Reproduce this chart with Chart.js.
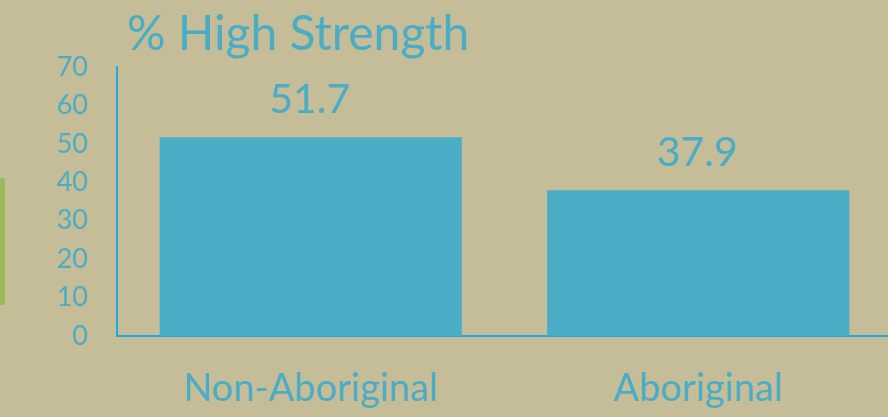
<!DOCTYPE html>
<html>
<head>
<meta charset="utf-8">
<script src="https://cdn.jsdelivr.net/npm/chart.js@4.4.1/dist/chart.umd.min.js"></script>
<style>
  html, body { margin: 0; padding: 0; background: #C4BD97; overflow: hidden; }
  #wrap { position: relative; width: 892px; height: 417px; }
  #accent { position: absolute; left: 0; top: 178px; width: 5px; height: 127px; background: #9BBB59; border-radius: 0 2px 2px 0; }
</style>
</head>
<body>
<div id="wrap">
  <canvas id="c" width="892" height="417"></canvas>
</div>
<div id="accent"></div>
<script>
const titleText = "% High Strength";
const categories = ["Non-Aboriginal", "Aboriginal"];
const values = [51.7, 37.9];
const yMin = 0, yMax = 70, yStep = 10;

const BLUE = "#4BACC6";
const AXIS = "#22A9DD";
const FONT = "Lato, 'Open Sans', sans-serif";

const labelsPlugin = {
  id: "valueLabels",
  afterDatasetsDraw(chart) {
    const ctx = chart.ctx;
    const meta = chart.getDatasetMeta(0);
    ctx.save();
    ctx.fillStyle = BLUE;
    ctx.font = "41px " + FONT;
    ctx.textAlign = "center";
    ctx.textBaseline = "alphabetic";
    meta.data.forEach((bar, i) => {
      ctx.fillText(values[i].toFixed(1), bar.x - 1, bar.y - 24);
    });
    // title
    ctx.font = "48px " + FONT;
    ctx.textAlign = "left";
    ctx.fillText(titleText, chart.chartArea.left + 10, 50);
    ctx.restore();
  }
};

new Chart(document.getElementById("c"), {
  type: "bar",
  data: {
    labels: categories,
    datasets: [{
      data: values,
      backgroundColor: BLUE,
      borderWidth: 0,
      barPercentage: 0.78,
      categoryPercentage: 1.0
    }]
  },
  options: {
    responsive: false,
    animation: false,
    layout: { padding: { top: 67, left: 0, right: 0, bottom: 0 } },
    plugins: { legend: { display: false }, tooltip: { enabled: false }, title: { display: false } },
    scales: {
      x: {
        grid: { display: false, drawTicks: false },
        border: { display: true, color: AXIS, width: 2 },
        ticks: { color: BLUE, font: { family: FONT, size: 38 }, padding: 30 },
        afterFit(scale) { scale.height = 81; }
      },
      y: {
        min: yMin, max: yMax,
        grid: { display: false, drawTicks: false },
        border: { display: true, color: AXIS, width: 2 },
        ticks: { stepSize: yStep, color: BLUE, font: { family: FONT, size: 27 }, padding: 29 },
        afterFit(scale) { scale.width = 117; }
      }
    }
  },
  plugins: [labelsPlugin]
});
</script>
</body>
</html>
